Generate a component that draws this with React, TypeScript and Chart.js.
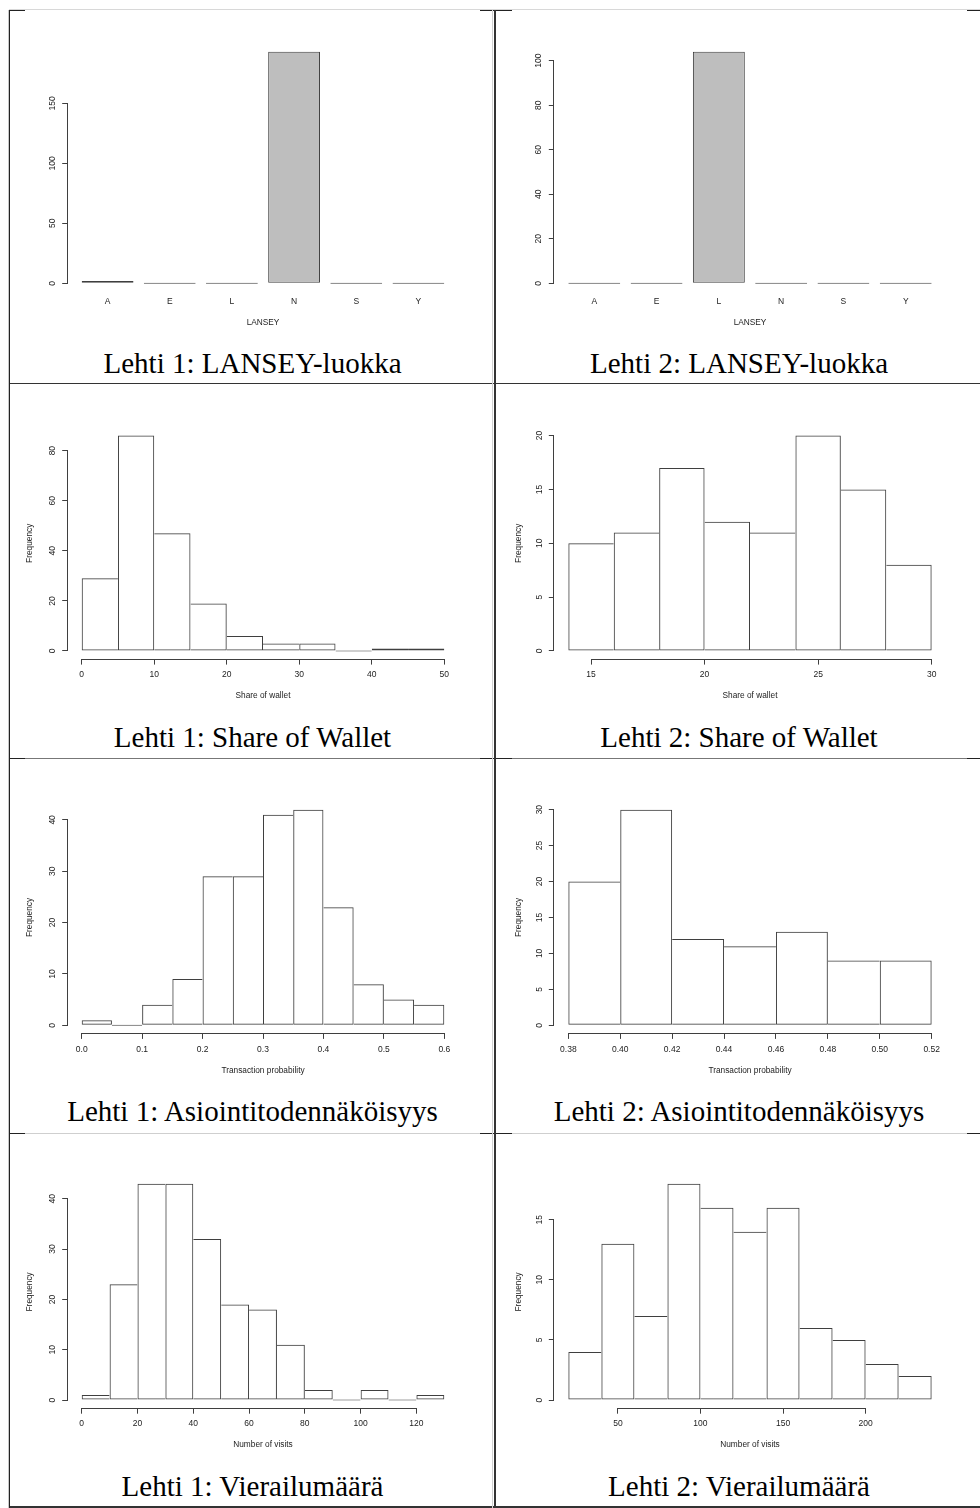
import React, { useEffect, useRef } from "react";
import { Chart, registerables } from "chart.js";

Chart.register(...registerables);

// ---------------- DATA ----------------
const lansey1Categories = ["A", "E", "L", "N", "S", "Y"];
const lansey1Counts = [2, 0, 0, 193, 0, 0];
const lansey1YTicks = [0, 50, 100, 150];

const lansey2Categories = ["A", "E", "L", "N", "S", "Y"];
const lansey2Counts = [0, 0, 104, 0, 0, 0];
const lansey2YTicks = [0, 20, 40, 60, 80, 100];

const sow1Breaks = [0, 5, 10, 15, 20, 25, 30, 35, 40, 45, 50];
const sow1Counts = [29, 86, 47, 19, 6, 3, 3, 0, 1, 1];
const sow1XTicks = [0, 10, 20, 30, 40, 50];
const sow1XLabels = ["0", "10", "20", "30", "40", "50"];
const sow1YTicks = [0, 20, 40, 60, 80];

const sow2Breaks = [14, 16, 18, 20, 22, 24, 26, 28, 30];
const sow2Counts = [10, 11, 17, 12, 11, 20, 15, 8];
const sow2XTicks = [15, 20, 25, 30];
const sow2XLabels = ["15", "20", "25", "30"];
const sow2YTicks = [0, 5, 10, 15, 20];

const tp1Breaks = [0, 0.05, 0.1, 0.15, 0.2, 0.25, 0.3, 0.35, 0.4, 0.45, 0.5, 0.55, 0.6];
const tp1Counts = [1, 0, 4, 9, 29, 29, 41, 42, 23, 8, 5, 4];
const tp1XTicks = [0, 0.1, 0.2, 0.3, 0.4, 0.5, 0.6];
const tp1XLabels = ["0.0", "0.1", "0.2", "0.3", "0.4", "0.5", "0.6"];
const tp1YTicks = [0, 10, 20, 30, 40];

const tp2Breaks = [0.38, 0.4, 0.42, 0.44, 0.46, 0.48, 0.5, 0.52];
const tp2Counts = [20, 30, 12, 11, 13, 9, 9];
const tp2XTicks = [0.38, 0.4, 0.42, 0.44, 0.46, 0.48, 0.5, 0.52];
const tp2XLabels = ["0.38", "0.40", "0.42", "0.44", "0.46", "0.48", "0.50", "0.52"];
const tp2YTicks = [0, 5, 10, 15, 20, 25, 30];

const visits1Breaks = [0, 10, 20, 30, 40, 50, 60, 70, 80, 90, 100, 110, 120, 130];
const visits1Counts = [1, 23, 43, 43, 32, 19, 18, 11, 2, 0, 2, 0, 1];
const visits1XTicks = [0, 20, 40, 60, 80, 100, 120];
const visits1XLabels = ["0", "20", "40", "60", "80", "100", "120"];
const visits1YTicks = [0, 10, 20, 30, 40];

const visits2Breaks = [20, 40, 60, 80, 100, 120, 140, 160, 180, 200, 220, 240];
const visits2Counts = [4, 13, 7, 18, 16, 14, 16, 6, 5, 3, 2];
const visits2XTicks = [50, 100, 150, 200];
const visits2XLabels = ["50", "100", "150", "200"];
const visits2YTicks = [0, 5, 10, 15];

// ---------------- STYLE / LAYOUT ----------------
const LINE = "#3f3f3f";
const TEXT = "#222222";
const BAR_FILL = "#bebebe";
const SANS = "'Liberation Sans', Arial, Helvetica, sans-serif";
const SERIF = "'Liberation Serif', 'Times New Roman', Times, serif";
const TICK_PX = 8.5;
const TITLE_PX = 8.3;

const COLS = [
  { x0: 10, w: 485, cx: 10, cw: 484, L: 67.2, R: 458.8, W: 42 },
  { x0: 497, w: 484, cx: 497, cw: 483, L: 553.8, R: 946.2, W: 39.6 },
];
const ROWS = [
  { cy: 11, T: 42.5, B: 292.6, H: 34.7, base: 372.7 },
  { cy: 385, T: 427, B: 659.6, H: 41.3, base: 747 },
  { cy: 759, T: 801, B: 1033.9, H: 41.3, base: 1121 },
  { cy: 1134, T: 1175, B: 1408.7, H: 41.3, base: 1496 },
];
const CANVAS_H = 320;

type PanelSpec = {
  kind: "bar" | "hist";
  categories?: string[];
  breaks?: number[];
  counts: number[];
  xTicks?: number[];
  xLabels?: string[];
  yTicks: number[];
  xTitle: string;
  yTitle?: string;
  caption: string;
  col: number;
  row: number;
  yPad: number;
};

const PANELS: PanelSpec[] = [
  { kind: "bar", categories: lansey1Categories, counts: lansey1Counts, yTicks: lansey1YTicks, xTitle: "LANSEY", caption: "Lehti 1: LANSEY-luokka", col: 0, row: 0, yPad: 2.9 },
  { kind: "bar", categories: lansey2Categories, counts: lansey2Counts, yTicks: lansey2YTicks, xTitle: "LANSEY", caption: "Lehti 2: LANSEY-luokka", col: 1, row: 0, yPad: 2.9 },
  { kind: "hist", breaks: sow1Breaks, counts: sow1Counts, xTicks: sow1XTicks, xLabels: sow1XLabels, yTicks: sow1YTicks, xTitle: "Share of wallet", yTitle: "Frequency", caption: "Lehti 1: Share of Wallet", col: 0, row: 1, yPad: 5.3 },
  { kind: "hist", breaks: sow2Breaks, counts: sow2Counts, xTicks: sow2XTicks, xLabels: sow2XLabels, yTicks: sow2YTicks, xTitle: "Share of wallet", yTitle: "Frequency", caption: "Lehti 2: Share of Wallet", col: 1, row: 1, yPad: 4 },
  { kind: "hist", breaks: tp1Breaks, counts: tp1Counts, xTicks: tp1XTicks, xLabels: tp1XLabels, yTicks: tp1YTicks, xTitle: "Transaction probability", yTitle: "Frequency", caption: "Lehti 1: Asiointitodennäköisyys", col: 0, row: 2, yPad: 5.3 },
  { kind: "hist", breaks: tp2Breaks, counts: tp2Counts, xTicks: tp2XTicks, xLabels: tp2XLabels, yTicks: tp2YTicks, xTitle: "Transaction probability", yTitle: "Frequency", caption: "Lehti 2: Asiointitodennäköisyys", col: 1, row: 2, yPad: 4 },
  { kind: "hist", breaks: visits1Breaks, counts: visits1Counts, xTicks: visits1XTicks, xLabels: visits1XLabels, yTicks: visits1YTicks, xTitle: "Number of visits", yTitle: "Frequency", caption: "Lehti 1: Vierailumäärä", col: 0, row: 3, yPad: 5.3 },
  { kind: "hist", breaks: visits2Breaks, counts: visits2Counts, xTicks: visits2XTicks, xLabels: visits2XLabels, yTicks: visits2YTicks, xTitle: "Number of visits", yTitle: "Frequency", caption: "Lehti 2: Vierailumäärä", col: 1, row: 3, yPad: 4 },
];

// table rules (decoration of the surrounding document table)
const RULES = [
  { l: 9, t: 9, w: 971, h: 1, c: "#d8d8d8" },
  { l: 9, t: 10, w: 16, h: 1, c: "#222" },
  { l: 480, t: 10, w: 32, h: 1, c: "#222" },
  { l: 967, t: 10, w: 13, h: 1, c: "#222" },
  { l: 9, t: 383, w: 971, h: 1, c: "#333" },
  { l: 9, t: 758, w: 971, h: 1, c: "#777" },
  { l: 9, t: 758, w: 16, h: 1, c: "#222" },
  { l: 480, t: 758, w: 32, h: 1, c: "#222" },
  { l: 967, t: 758, w: 13, h: 1, c: "#222" },
  { l: 9, t: 1133, w: 971, h: 1, c: "#cfcfcf" },
  { l: 9, t: 1133, w: 16, h: 1, c: "#222" },
  { l: 480, t: 1133, w: 32, h: 1, c: "#222" },
  { l: 967, t: 1133, w: 13, h: 1, c: "#222" },
  { l: 9, t: 1506, w: 971, h: 2, c: "#333" },
  { l: 8, t: 10, w: 1, h: 1498, c: "#c8c8c8" },
  { l: 9, t: 10, w: 1, h: 1498, c: "#222" },
  { l: 492, t: 10, w: 1, h: 1498, c: "#d0d0d0" },
  { l: 494, t: 10, w: 2, h: 1498, c: "#333" },
];

// R-style axis lines: span only from the first to the last tick
const rAxesPlugin = {
  id: "rAxes",
  afterDraw(chart: any, _args: any, opts: any) {
    const { ctx, chartArea } = chart;
    const xs = chart.scales.x;
    const ys = chart.scales.y;
    const al = (v: number) => Math.round(v - 0.5) + 0.5;
    ctx.save();
    ctx.strokeStyle = LINE;
    ctx.lineWidth = 1;
    ctx.beginPath();
    const yt = ys.ticks;
    const ax = al(chartArea.left);
    ctx.moveTo(ax, al(ys.getPixelForValue(yt[0].value)) + 0.5);
    ctx.lineTo(ax, al(ys.getPixelForValue(yt[yt.length - 1].value)) - 0.5);
    if (opts && opts.xLine) {
      const xt = xs.ticks;
      const ay = al(chartArea.bottom);
      ctx.moveTo(al(xs.getPixelForValue(xt[0].value)) - 0.5, ay);
      ctx.lineTo(al(xs.getPixelForValue(xt[xt.length - 1].value)) + 0.5, ay);
    }
    ctx.stroke();
    ctx.restore();
  },
};

function buildConfig(p: PanelSpec): any {
  const col = COLS[p.col];
  const row = ROWS[p.row];
  const isBar = p.kind === "bar";
  const tickFont = { family: SANS, size: TICK_PX };
  const titleFont = { family: SANS, size: TITLE_PX };

  let xs: number[];
  let xMin: number;
  let xMax: number;
  let xTickVals: number[];
  let xTickLabels: string[];
  let catPct: number;

  if (isBar) {
    // R barplot geometry: bar width 1, space 0.2
    const cats = p.categories as string[];
    xs = cats.map((_, i) => 0.2 + 1.2 * i + 0.5);
    const lo = 0.2;
    const hi = 1.2 * cats.length;
    const pad = 0.04 * (hi - lo);
    xMin = lo - pad;
    xMax = hi + pad;
    xTickVals = xs;
    xTickLabels = cats;
    catPct = 1 / 1.2;
  } else {
    const b = p.breaks as number[];
    xs = p.counts.map((_, i) => (b[i] + b[i + 1]) / 2);
    const pad = 0.04 * (b[b.length - 1] - b[0]);
    xMin = b[0] - pad;
    xMax = b[b.length - 1] + pad;
    xTickVals = p.xTicks as number[];
    xTickLabels = p.xLabels as string[];
    catPct = 1;
  }

  const counts = p.counts;
  const ymax = Math.max(...counts);
  const histBorders = counts.map((h, i) => ({
    top: 1,
    bottom: 1,
    left: i === 0 || h >= counts[i - 1] ? 1 : 0,
    right: i === counts.length - 1 || h > counts[i + 1] ? 1 : 0,
  }));

  return {
    type: "bar",
    data: {
      datasets: [
        {
          data: xs.map((x, i) => ({ x, y: counts[i] })),
          backgroundColor: isBar ? BAR_FILL : "rgba(255,255,255,0)",
          borderColor: LINE,
          borderWidth: isBar ? 1 : (c: any) => histBorders[c.dataIndex],
          borderSkipped: false,
          inflateAmount: 0,
          barPercentage: 1,
          categoryPercentage: catPct,
          minBarLength: 1,
        },
      ],
    },
    plugins: [rAxesPlugin],
    options: {
      responsive: false,
      animation: false,
      devicePixelRatio: 1,
      events: [],
      layout: {
        padding: {
          left: col.L - col.cx - col.W,
          right: col.cx + col.cw - col.R,
          top: row.T - row.cy,
          bottom: row.cy + CANVAS_H - row.B - row.H,
        },
      },
      plugins: {
        legend: { display: false },
        tooltip: { enabled: false },
        title: { display: false },
        rAxes: { xLine: !isBar },
      },
      scales: {
        x: {
          type: "linear",
          min: xMin,
          max: xMax,
          bounds: "data",
          offset: false,
          grid: {
            display: !isBar,
            offset: false,
            drawOnChartArea: false,
            drawTicks: !isBar,
            tickLength: isBar ? 0 : 5,
            color: LINE,
            lineWidth: 1,
          },
          border: { display: false },
          ticks: {
            autoSkip: false,
            minRotation: 0,
            maxRotation: 0,
            padding: isBar ? 4.0 : 5.3,
            font: tickFont,
            color: TEXT,
            callback: (_v: any, i: number) => xTickLabels[i],
          },
          afterBuildTicks: (s: any) => {
            s.ticks = xTickVals.map((v) => ({ value: v }));
          },
          afterFit: (s: any) => {
            s.height = row.H;
          },
          title: { display: true, text: p.xTitle, font: titleFont, color: TEXT, padding: 0 },
        },
        y: {
          type: "linear",
          min: -0.04 * ymax,
          max: 1.04 * ymax,
          bounds: "data",
          grid: {
            drawOnChartArea: false,
            drawTicks: true,
            tickLength: 5,
            color: LINE,
            lineWidth: 1,
          },
          border: { display: false },
          ticks: {
            autoSkip: false,
            minRotation: 90,
            maxRotation: 90,
            crossAlign: "center",
            padding: p.yPad,
            font: tickFont,
            color: TEXT,
            callback: (_v: any, i: number) => String(p.yTicks[i]),
          },
          afterBuildTicks: (s: any) => {
            s.ticks = p.yTicks.map((v) => ({ value: v }));
          },
          afterFit: (s: any) => {
            s.width = col.W;
          },
          title: { display: !!p.yTitle, text: p.yTitle || "", font: titleFont, color: TEXT, padding: 0 },
        },
      },
    },
  };
}

function Panel({ p }: { p: PanelSpec }) {
  const ref = useRef<HTMLCanvasElement | null>(null);
  const col = COLS[p.col];
  const row = ROWS[p.row];
  useEffect(() => {
    if (!ref.current) return;
    const chart = new Chart(ref.current, buildConfig(p));
    return () => chart.destroy();
  }, [p]);
  return (
    <>
      <canvas
        ref={ref}
        width={col.cw}
        height={CANVAS_H}
        style={{ position: "absolute", left: col.cx, top: row.cy, width: col.cw, height: CANVAS_H }}
      />
      <div
        style={{
          position: "absolute",
          left: col.x0,
          width: col.w,
          top: row.base - 25.8,
          height: 32,
          lineHeight: "32px",
          fontFamily: SERIF,
          fontSize: 29,
          color: "#000",
          textAlign: "center",
          whiteSpace: "nowrap",
        }}
      >
        {p.caption}
      </div>
    </>
  );
}

export default function App() {
  return (
    <div
      style={{
        position: "absolute",
        left: 0,
        top: 0,
        width: 980,
        height: 1508,
        background: "#fff",
        overflow: "hidden",
      }}
    >
      {PANELS.map((p, i) => (
        <Panel key={i} p={p} />
      ))}
      {RULES.map((r, i) => (
        <div
          key={"r" + i}
          style={{ position: "absolute", left: r.l, top: r.t, width: r.w, height: r.h, background: r.c }}
        />
      ))}
    </div>
  );
}
